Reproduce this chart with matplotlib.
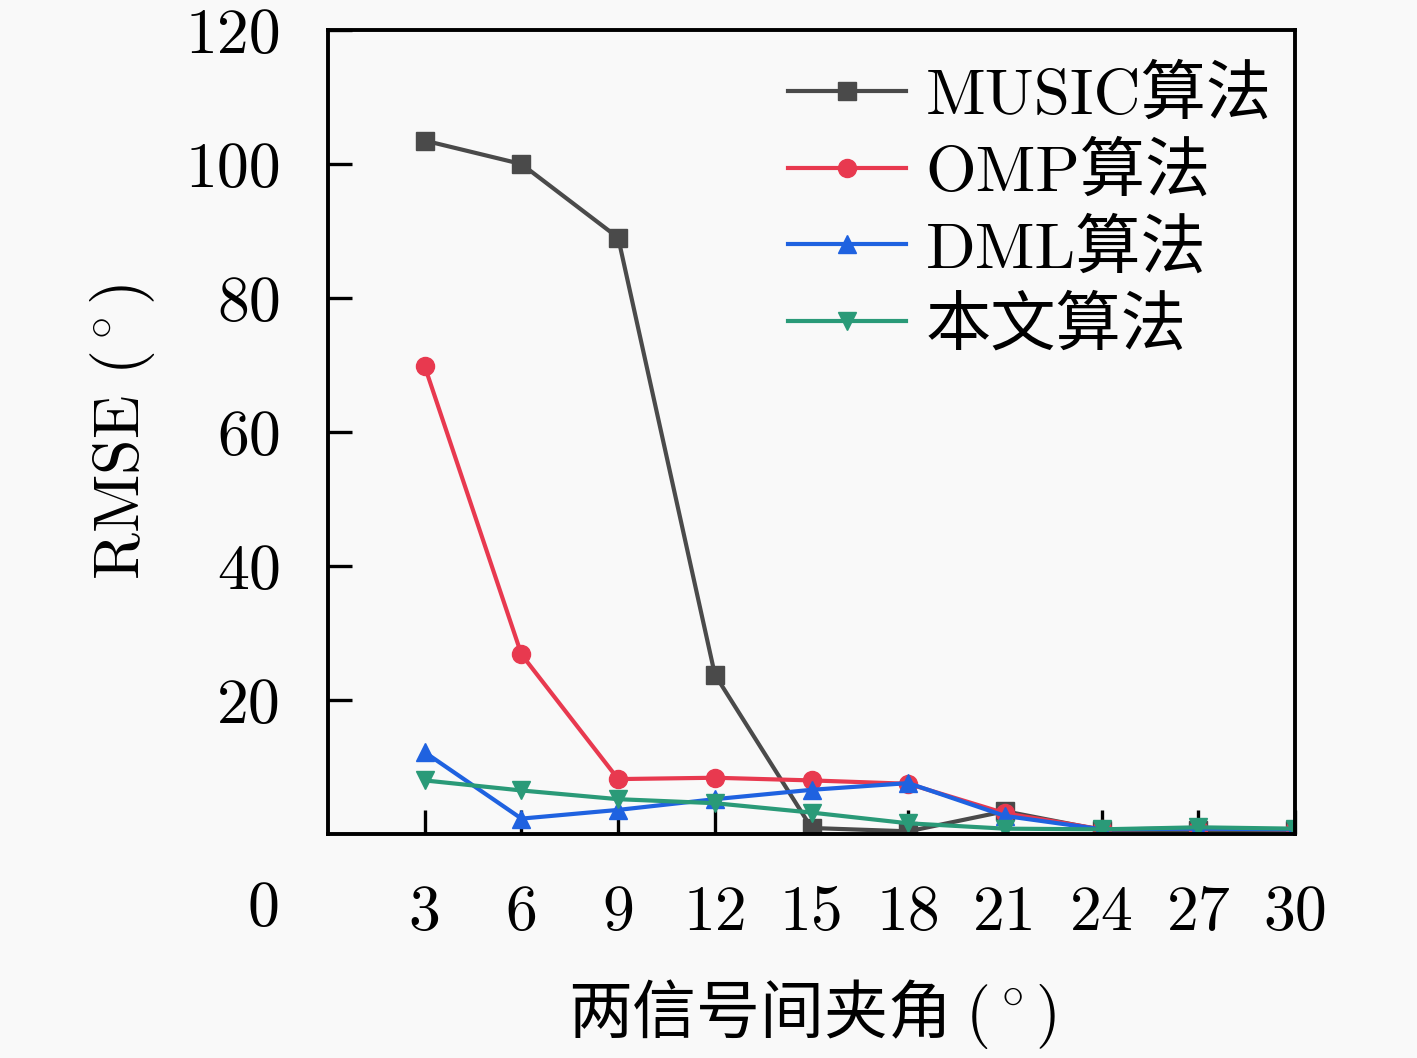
import matplotlib
matplotlib.use("Agg")
import matplotlib.pyplot as plt
import matplotlib.transforms as mtransforms

plt.rcParams["font.family"] = ["cmr10", "Noto Sans CJK SC", "DejaVu Sans"]
plt.rcParams["mathtext.fontset"] = "cm"
plt.rcParams["axes.unicode_minus"] = False

angles = [3, 6, 9, 12, 15, 18, 21, 24, 27, 30]
music = [103.5, 100.0, 89.0, 23.8, 0.9, 0.4, 3.4, 0.6, 0.6, 0.6]
omp = [69.8, 26.8, 8.2, 8.4, 8.0, 7.5, 3.1, 0.7, 0.8, 0.7]
dml = [12.2, 2.3, 3.6, 5.2, 6.6, 7.6, 2.7, 0.7, 0.8, 0.7]
ours = [8.0, 6.5, 5.2, 4.6, 3.2, 1.6, 0.8, 0.7, 1.0, 0.8]

names = ["MUSIC算法", "OMP算法", "DML算法", "本文算法"]
colors = ["#4a4a4a", "#e8394f", "#1f62e0", "#2a9a78"]
markers = ["s", "o", "^", "v"]
y_ticks = [20, 40, 60, 80, 100, 120]

BG = "#f9f9f9"
FS = 46

fig = plt.figure(figsize=(14.17, 10.58), dpi=100, facecolor=BG)
ax = fig.add_axes([0.2315, 0.2117, 0.6825, 0.7599], facecolor=BG)

for vals, name, c, m in zip([music, omp, dml, ours], names, colors, markers):
    ax.plot(angles, vals, color=c, marker=m, markersize=13, linewidth=3.0, label=name)

ax.set_xlim(0, 30)
ax.set_ylim(0, 120)
ax.set_xticks(angles, labels=[str(a) for a in angles])
ax.set_yticks(y_ticks, labels=[str(v) for v in y_ticks])
ax.tick_params(axis="both", direction="in", length=17, width=2.4, labelsize=FS)
ax.tick_params(axis="x", pad=37)
ax.tick_params(axis="y", pad=34)
for s in ax.spines.values():
    s.set_linewidth(2.8)

# the "0" sits at the x tick label level, left of the plot
trans = mtransforms.blended_transform_factory(ax.transAxes, ax.transAxes)
ax.text(-0.05, -0.095, "0", transform=trans, ha="right", va="center", fontsize=FS)

ax.set_ylabel(r"RMSE ($^\circ$)", fontsize=FS, labelpad=20)
ax.set_xlabel(r"两信号间夹角 $(^\circ)$", fontsize=FS, labelpad=24,
              family=["Noto Sans CJK SC"])

ax.legend(loc="upper left", bbox_to_anchor=(0.476, 0.955), frameon=False, fontsize=47,
          handlelength=1.8, handletextpad=0.3, labelspacing=0.25, borderpad=0,
          borderaxespad=0)

fig.savefig("out.png", dpi=100, facecolor=BG)
